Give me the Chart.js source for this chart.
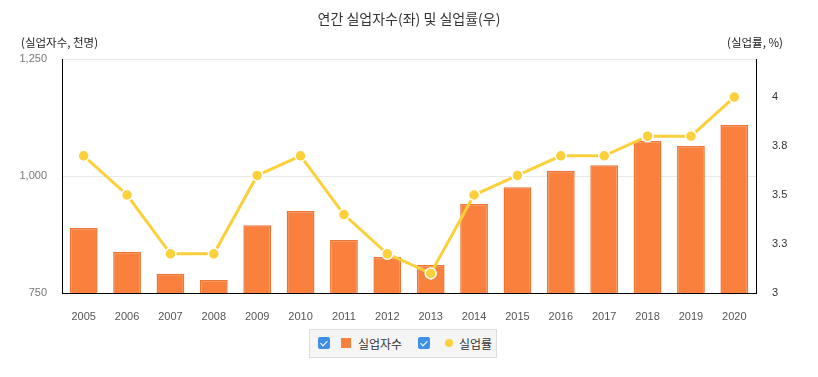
<!DOCTYPE html>
<html>
<head>
<meta charset="utf-8">
<script src="https://cdn.jsdelivr.net/npm/chart.js@4.4.0/dist/chart.umd.min.js"></script>
<style>
  body { margin: 0; background: #fff; font-family: "Noto Sans CJK KR", "Liberation Sans", sans-serif; }
  #wrap { position: relative; width: 818px; height: 377px; }
  #chart { position: absolute; left: 0; top: 0; }
  .title { position: absolute; top: 8px; left: 0; width: 818px; text-align: center; font-size: 14px; color: #333; }
  .axisTitle { position: absolute; top: 34px; font-size: 11.5px; color: #222; }
  .legend { position: absolute; left: 309px; top: 329px; width: 188px; height: 29px; background: #f5f5f5;
            border: 1px solid #ddd; box-sizing: border-box; font-size: 12px; color: #333; }
  .legend span { position: absolute; }
  .chk { width: 12px; height: 12px; background: #3d8fe8; border-radius: 2px; top: 7px; }
  .chk::after { content: ""; position: absolute; left: 4px; top: 1.5px; width: 3px; height: 6px;
                border: solid #fff; border-width: 0 1.5px 1.5px 0; transform: rotate(45deg); }
</style>
</head>
<body>
<div id="wrap">
  <canvas id="chart" width="818" height="377"></canvas>
  <div class="title">연간 실업자수(좌) 및 실업률(우)</div>
  <div class="axisTitle" style="left:21px">(실업자수, 천명)</div>
  <div class="axisTitle" style="left:727px">(실업률, %)</div>
  <div class="legend">
    <span class="chk" style="left:8px"></span>
    <span style="left:31px;top:8px;width:10px;height:10px;background:#f9813d"></span>
    <span style="left:48px;top:5px">실업자수</span>
    <span class="chk" style="left:108px"></span>
    <span style="left:135px;top:9px;width:8px;height:8px;border-radius:50%;background:#fcd03a"></span>
    <span style="left:149px;top:5px">실업률</span>
  </div>
</div>
<script>
// 연도
const years = ['2005', '2006', '2007', '2008', '2009', '2010', '2011', '2012',
               '2013', '2014', '2015', '2016', '2017', '2018', '2019', '2020'];
// 실업자수 (천명)
const unemployed = [889, 838, 791, 778, 895, 925, 863, 827, 810, 940, 976, 1011, 1023, 1075, 1064, 1109];
// 실업률 (%)
const rate = [3.7, 3.5, 3.2, 3.2, 3.6, 3.7, 3.4, 3.2, 3.1, 3.5, 3.6, 3.7, 3.7, 3.8, 3.8, 4.0];
// 축 눈금
const leftTicks = [750, 1000, 1250];
const rightTicks = [3, 3.25, 3.5, 3.75, 4];

const tickFont = { family: 'Liberation Sans, Arial, sans-serif', size: 11 };

const ctx = document.getElementById('chart').getContext('2d');
const chart = new Chart(ctx, {
    type: 'bar',
    data: {
        labels: years,
        datasets: [{
            type: 'line',
            label: '실업률',
            data: rate,
            yAxisID: 'y1',
            borderColor: '#fcd03a',
            backgroundColor: '#fcd03a',
            borderWidth: 3,
            pointRadius: 5.5,
            pointBorderColor: '#fff',
            pointBorderWidth: 1.5,
            pointBackgroundColor: '#fcd03a',
            tension: 0,
            order: 0
        }, {
            label: '실업자수',
            data: unemployed,
            yAxisID: 'y',
            backgroundColor: '#f9813d',
            borderColor: '#ee7433',
            borderWidth: 1.5,
            barPercentage: 0.64,
            categoryPercentage: 1,
            order: 1
        }]
    },
    options: {
        responsive: false,
        animation: false,
        layout: { padding: { left: 0, right: 0, top: 59, bottom: 44 } },
        plugins: {
            legend: { display: false },
            title: { display: false },
            tooltip: { enabled: false }
        },
        scales: {
            x: {
                grid: { display: false },
                border: { display: true, color: '#000', width: 1 },
                ticks: { color: '#555', font: tickFont, padding: 9, maxRotation: 0 },
                afterFit: (s) => { s.height = 40; }
            },
            y: {
                position: 'left',
                min: 750,
                max: 1250,
                afterBuildTicks: (s) => { s.ticks = leftTicks.map(v => ({ value: v })); },
                grid: { color: '#e8e8e8', drawTicks: false },
                border: { display: true, color: '#000', width: 1 },
                ticks: {
                    color: '#777', font: tickFont, padding: 15,
                    callback: (v) => v.toLocaleString('en-US')
                },
                afterFit: (s) => { s.width = 62; }
            },
            y1: {
                position: 'right',
                min: 3,
                max: 4.194,
                afterBuildTicks: (s) => { s.ticks = rightTicks.map(v => ({ value: v })); },
                grid: { display: false, drawTicks: false },
                border: { display: true, color: '#000', width: 1 },
                ticks: {
                    color: '#333', font: tickFont, padding: 16,
                    callback: (v) => Number.isInteger(v) ? String(v) : v.toFixed(1)
                },
                afterFit: (s) => { s.width = 62; }
            }
        }
    }
});
</script>
</body>
</html>
